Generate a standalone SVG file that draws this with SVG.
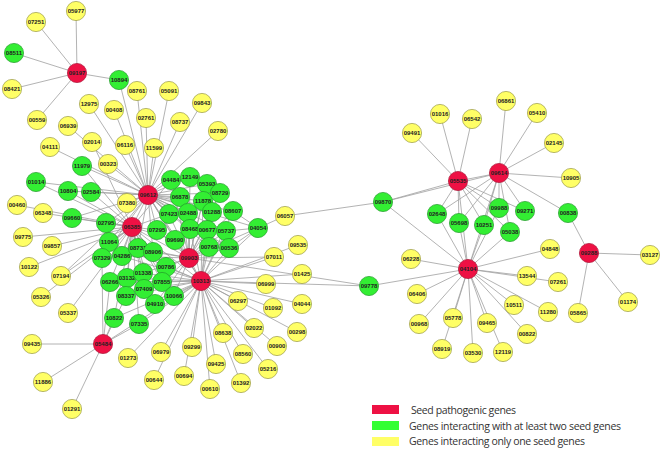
<svg xmlns="http://www.w3.org/2000/svg" width="662" height="450" viewBox="0 0 662 450">
<style>
.e path{fill:none;stroke:#a0a0a0;stroke-width:0.8}
.r circle{fill:#ee1144;stroke:#aa1133;stroke-width:0.7}
.g circle{fill:#33ee33;stroke:#22992a;stroke-width:0.7}
.y circle{fill:#ffff66;stroke:#9a9a40;stroke-width:0.7}
.n text{font-family:"Liberation Sans",Arial,sans-serif;font-size:6px;font-weight:bold;fill:#222;text-anchor:middle}
.lg text{font-family:"Open Sans","Liberation Sans",sans-serif;font-size:10.5px;fill:#333}
</style>
<rect width="662" height="450" fill="#fff"/>
<g class="e" id="connectors">
<path id="e-09197" d="M77 73L76 11M77 73L36 22M77 73L14 53M77 73L12 89M77 73L37 120M77 73L119 80M119 80L148 195"/>
<path id="e-09612" d="M148 195L89 104M148 195L114 110M148 195L137 91M148 195L146 118M148 195L169 91M148 195L202 103M148 195L180 122M148 195L218 131M148 195L68 126M148 195L125 145M148 195L154 148M148 195L108 164M148 195L50 147M148 195L82 166M148 195L91 192M148 195L68 191M148 195L127 203M148 195L132 227M148 195L171 180M148 195L190 177M148 195L207 184M148 195L180 197M148 195L203 201M148 195L220 193M148 195L169 214M148 195L188 213M148 195L212 212M148 195L233 211M148 195L157 230M148 195L190 229M148 195L207 230M148 195L226 231M148 195L175 240M148 195L209 247M148 195L229 248M148 195L258 228M148 195L106 223M148 195L109 242M148 195L72 218M148 195L36 182M148 195L189 258M148 195L201 281M148 195L138 248M148 195L153 252M148 195L61 276M148 195L102 258"/>
<path id="e-06385" d="M132 227L17 205M132 227L43 213M132 227L23 237M132 227L52 246M132 227L29 267M132 227L61 276M132 227L41 297M132 227L68 313M132 227L36 182M132 227L68 191M132 227L91 192M132 227L72 218M132 227L106 223M132 227L109 242M132 227L102 258M132 227L122 256M132 227L138 248M132 227L153 252M132 227L110 282M132 227L127 278M132 227L143 273M132 227L126 296M132 227L144 289M132 227L114 318M132 227L139 324M132 227L82 166M132 227L157 230M132 227L175 240M132 227L189 258M132 227L201 281M132 227L166 267M132 227L162 282M132 227L155 304M132 227L174 296M132 227L92 142M132 227L169 214M132 227L171 180"/>
<path id="e-09903" d="M189 258L171 180M189 258L190 177M189 258L207 184M189 258L180 197M189 258L203 201M189 258L220 193M189 258L169 214M189 258L188 213M189 258L212 212M189 258L233 211M189 258L157 230M189 258L190 229M189 258L207 230M189 258L226 231M189 258L175 240M189 258L209 247M189 258L229 248M189 258L258 228M189 258L201 281M189 258L166 267M189 258L162 282M189 258L153 252M189 258L143 273M189 258L174 296M189 258L155 304M189 258L122 256M189 258L138 248M189 258L369 286M189 258L274 257"/>
<path id="e-10313" d="M201 281L229 248M201 281L209 247M201 281L258 228M201 281L226 231M201 281L207 230M201 281L190 229M201 281L162 282M201 281L174 296M201 281L155 304M201 281L139 324M201 281L114 318M201 281L166 267M201 281L144 289M201 281L143 273M201 281L127 278M201 281L110 282M201 281L126 296M201 281L175 240M201 281L212 212M201 281L233 211M201 281L203 201M201 281L128 358M201 281L161 352M201 281L154 380M201 281L192 347M201 281L184 376M201 281L216 364M201 281L210 389M201 281L223 333M201 281L243 354M201 281L241 383M201 281L268 369M201 281L254 328M201 281L277 346M201 281L297 332M201 281L238 301M201 281L273 308M201 281L266 284M201 281L302 304M201 281L274 257M201 281L302 274M201 281L298 245M201 281L369 286M201 281L122 256M201 281L109 242"/>
<path id="e-05484" d="M103 344L32 344M103 344L43 382M103 344L72 409M103 344L114 318M103 344L139 324M103 344L110 282M103 344L126 296M103 344L201 281M103 344L102 258"/>
<path id="e-misc" d="M258 228L285 216M285 216L383 202M258 228L233 211M258 228L229 248M258 228L226 231"/>
<path id="e-05535" d="M458 181L412 133M458 181L440 114M458 181L472 119M458 181L383 202M458 181L437 214M458 181L459 223M458 181L484 225M458 181L499 208M458 181L525 211M458 181L510 232M458 181L468 269M458 181L499 173"/>
<path id="e-09614" d="M499 173L506 101M499 173L537 113M499 173L554 143M499 173L571 178M499 173L568 213M499 173L383 202M499 173L437 214M499 173L459 223M499 173L484 225M499 173L499 208M499 173L525 211M499 173L510 232M499 173L468 269"/>
<path id="e-04104" d="M468 269L383 202M468 269L437 214M468 269L459 223M468 269L484 225M468 269L510 232M468 269L499 208M468 269L411 259M468 269L369 286M468 269L550 249M468 269L527 276M468 269L558 282M468 269L417 294M468 269L419 324M468 269L453 318M468 269L442 349M468 269L473 353M468 269L487 323M468 269L503 352M468 269L527 334M468 269L514 305M468 269L548 312"/>
<path id="e-09288" d="M589 253L568 213M589 253L650 255M589 253L578 313M589 253L628 302"/>
</g>
<g class="n">
<g id="n05977" class="y"><circle cx="76" cy="11" r="9.6"/><text x="76" y="13.1">05977</text></g>
<g id="n07251" class="y"><circle cx="36" cy="22" r="9.6"/><text x="36" y="24.1">07251</text></g>
<g id="n08421" class="y"><circle cx="12" cy="89" r="9.6"/><text x="12" y="91.1">08421</text></g>
<g id="n00559" class="y"><circle cx="37" cy="120" r="9.6"/><text x="37" y="122.1">00559</text></g>
<g id="n12975" class="y"><circle cx="89" cy="104" r="9.6"/><text x="89" y="106.1">12975</text></g>
<g id="n00408" class="y"><circle cx="114" cy="110" r="9.6"/><text x="114" y="112.1">00408</text></g>
<g id="n08761" class="y"><circle cx="137" cy="91" r="9.6"/><text x="137" y="93.1">08761</text></g>
<g id="n05091" class="y"><circle cx="169" cy="91" r="9.6"/><text x="169" y="93.1">05091</text></g>
<g id="n09843" class="y"><circle cx="202" cy="103" r="9.6"/><text x="202" y="105.1">09843</text></g>
<g id="n02761" class="y"><circle cx="146" cy="118" r="9.6"/><text x="146" y="120.1">02761</text></g>
<g id="n08737" class="y"><circle cx="180" cy="122" r="9.6"/><text x="180" y="124.1">08737</text></g>
<g id="n02780" class="y"><circle cx="218" cy="131" r="9.6"/><text x="218" y="133.1">02780</text></g>
<g id="n06939" class="y"><circle cx="68" cy="126" r="9.6"/><text x="68" y="128.1">06939</text></g>
<g id="n02014" class="y"><circle cx="92" cy="142" r="9.6"/><text x="92" y="144.1">02014</text></g>
<g id="n04111" class="y"><circle cx="50" cy="147" r="9.6"/><text x="50" y="149.1">04111</text></g>
<g id="n06116" class="y"><circle cx="125" cy="145" r="9.6"/><text x="125" y="147.1">06116</text></g>
<g id="n11599" class="y"><circle cx="154" cy="148" r="9.6"/><text x="154" y="150.1">11599</text></g>
<g id="n00323" class="y"><circle cx="108" cy="164" r="9.6"/><text x="108" y="166.1">00323</text></g>
<g id="n00460" class="y"><circle cx="17" cy="205" r="9.6"/><text x="17" y="207.1">00460</text></g>
<g id="n06348" class="y"><circle cx="43" cy="213" r="9.6"/><text x="43" y="215.1">06348</text></g>
<g id="n09775" class="y"><circle cx="23" cy="237" r="9.6"/><text x="23" y="239.1">09775</text></g>
<g id="n09857" class="y"><circle cx="52" cy="246" r="9.6"/><text x="52" y="248.1">09857</text></g>
<g id="n07380" class="y"><circle cx="127" cy="203" r="9.6"/><text x="127" y="205.1">07380</text></g>
<g id="n10122" class="y"><circle cx="29" cy="267" r="9.6"/><text x="29" y="269.1">10122</text></g>
<g id="n07194" class="y"><circle cx="61" cy="276" r="9.6"/><text x="61" y="278.1">07194</text></g>
<g id="n05326" class="y"><circle cx="41" cy="297" r="9.6"/><text x="41" y="299.1">05326</text></g>
<g id="n05337" class="y"><circle cx="68" cy="313" r="9.6"/><text x="68" y="315.1">05337</text></g>
<g id="n09435" class="y"><circle cx="32" cy="344" r="9.6"/><text x="32" y="346.1">09435</text></g>
<g id="n11886" class="y"><circle cx="43" cy="382" r="9.6"/><text x="43" y="384.1">11886</text></g>
<g id="n01291" class="y"><circle cx="72" cy="409" r="9.6"/><text x="72" y="411.1">01291</text></g>
<g id="n01273" class="y"><circle cx="128" cy="358" r="9.6"/><text x="128" y="360.1">01273</text></g>
<g id="n06979" class="y"><circle cx="161" cy="352" r="9.6"/><text x="161" y="354.1">06979</text></g>
<g id="n00644" class="y"><circle cx="154" cy="380" r="9.6"/><text x="154" y="382.1">00644</text></g>
<g id="n09299" class="y"><circle cx="192" cy="347" r="9.6"/><text x="192" y="349.1">09299</text></g>
<g id="n00694" class="y"><circle cx="184" cy="376" r="9.6"/><text x="184" y="378.1">00694</text></g>
<g id="n09425" class="y"><circle cx="216" cy="364" r="9.6"/><text x="216" y="366.1">09425</text></g>
<g id="n00610" class="y"><circle cx="210" cy="389" r="9.6"/><text x="210" y="391.1">00610</text></g>
<g id="n08638" class="y"><circle cx="223" cy="333" r="9.6"/><text x="223" y="335.1">08638</text></g>
<g id="n08560" class="y"><circle cx="243" cy="354" r="9.6"/><text x="243" y="356.1">08560</text></g>
<g id="n01392" class="y"><circle cx="241" cy="383" r="9.6"/><text x="241" y="385.1">01392</text></g>
<g id="n05216" class="y"><circle cx="268" cy="369" r="9.6"/><text x="268" y="371.1">05216</text></g>
<g id="n02022" class="y"><circle cx="254" cy="328" r="9.6"/><text x="254" y="330.1">02022</text></g>
<g id="n00900" class="y"><circle cx="277" cy="346" r="9.6"/><text x="277" y="348.1">00900</text></g>
<g id="n00298" class="y"><circle cx="297" cy="332" r="9.6"/><text x="297" y="334.1">00298</text></g>
<g id="n06297" class="y"><circle cx="238" cy="301" r="9.6"/><text x="238" y="303.1">06297</text></g>
<g id="n01092" class="y"><circle cx="273" cy="308" r="9.6"/><text x="273" y="310.1">01092</text></g>
<g id="n06999" class="y"><circle cx="266" cy="284" r="9.6"/><text x="266" y="286.1">06999</text></g>
<g id="n04044" class="y"><circle cx="302" cy="304" r="9.6"/><text x="302" y="306.1">04044</text></g>
<g id="n07011" class="y"><circle cx="274" cy="257" r="9.6"/><text x="274" y="259.1">07011</text></g>
<g id="n01425" class="y"><circle cx="302" cy="274" r="9.6"/><text x="302" y="276.1">01425</text></g>
<g id="n09535" class="y"><circle cx="298" cy="245" r="9.6"/><text x="298" y="247.1">09535</text></g>
<g id="n06057" class="y"><circle cx="285" cy="216" r="9.6"/><text x="285" y="218.1">06057</text></g>
<g id="n09491" class="y"><circle cx="412" cy="133" r="9.6"/><text x="412" y="135.1">09491</text></g>
<g id="n01016" class="y"><circle cx="440" cy="114" r="9.6"/><text x="440" y="116.1">01016</text></g>
<g id="n06542" class="y"><circle cx="472" cy="119" r="9.6"/><text x="472" y="121.1">06542</text></g>
<g id="n06861" class="y"><circle cx="506" cy="101" r="9.6"/><text x="506" y="103.1">06861</text></g>
<g id="n05410" class="y"><circle cx="537" cy="113" r="9.6"/><text x="537" y="115.1">05410</text></g>
<g id="n02145" class="y"><circle cx="554" cy="143" r="9.6"/><text x="554" y="145.1">02145</text></g>
<g id="n10905" class="y"><circle cx="571" cy="178" r="9.6"/><text x="571" y="180.1">10905</text></g>
<g id="n04848" class="y"><circle cx="550" cy="249" r="9.6"/><text x="550" y="251.1">04848</text></g>
<g id="n06228" class="y"><circle cx="411" cy="259" r="9.6"/><text x="411" y="261.1">06228</text></g>
<g id="n13544" class="y"><circle cx="527" cy="276" r="9.6"/><text x="527" y="278.1">13544</text></g>
<g id="n07261" class="y"><circle cx="558" cy="282" r="9.6"/><text x="558" y="284.1">07261</text></g>
<g id="n03127" class="y"><circle cx="650" cy="255" r="9.6"/><text x="650" y="257.1">03127</text></g>
<g id="n06406" class="y"><circle cx="417" cy="294" r="9.6"/><text x="417" y="296.1">06406</text></g>
<g id="n10511" class="y"><circle cx="514" cy="305" r="9.6"/><text x="514" y="307.1">10511</text></g>
<g id="n11280" class="y"><circle cx="548" cy="312" r="9.6"/><text x="548" y="314.1">11280</text></g>
<g id="n05865" class="y"><circle cx="578" cy="313" r="9.6"/><text x="578" y="315.1">05865</text></g>
<g id="n01174" class="y"><circle cx="628" cy="302" r="9.6"/><text x="628" y="304.1">01174</text></g>
<g id="n00968" class="y"><circle cx="419" cy="324" r="9.6"/><text x="419" y="326.1">00968</text></g>
<g id="n05778" class="y"><circle cx="453" cy="318" r="9.6"/><text x="453" y="320.1">05778</text></g>
<g id="n09465" class="y"><circle cx="487" cy="323" r="9.6"/><text x="487" y="325.1">09465</text></g>
<g id="n00822" class="y"><circle cx="527" cy="334" r="9.6"/><text x="527" y="336.1">00822</text></g>
<g id="n08919" class="y"><circle cx="442" cy="349" r="9.6"/><text x="442" y="351.1">08919</text></g>
<g id="n03530" class="y"><circle cx="473" cy="353" r="9.6"/><text x="473" y="355.1">03530</text></g>
<g id="n12119" class="y"><circle cx="503" cy="352" r="9.6"/><text x="503" y="354.1">12119</text></g>
<g id="n08511" class="g"><circle cx="14" cy="53" r="9.6"/><text x="14" y="55.1">08511</text></g>
<g id="n10894" class="g"><circle cx="119" cy="80" r="9.6"/><text x="119" y="82.1">10894</text></g>
<g id="n11979" class="g"><circle cx="82" cy="166" r="9.6"/><text x="82" y="168.1">11979</text></g>
<g id="n01014" class="g"><circle cx="36" cy="182" r="9.6"/><text x="36" y="184.1">01014</text></g>
<g id="n10804" class="g"><circle cx="68" cy="191" r="9.6"/><text x="68" y="193.1">10804</text></g>
<g id="n02584" class="g"><circle cx="91" cy="192" r="9.6"/><text x="91" y="194.1">02584</text></g>
<g id="n09660" class="g"><circle cx="72" cy="218" r="9.6"/><text x="72" y="220.1">09660</text></g>
<g id="n02795" class="g"><circle cx="106" cy="223" r="9.6"/><text x="106" y="225.1">02795</text></g>
<g id="n11064" class="g"><circle cx="109" cy="242" r="9.6"/><text x="109" y="244.1">11064</text></g>
<g id="n07329" class="g"><circle cx="102" cy="258" r="9.6"/><text x="102" y="260.1">07329</text></g>
<g id="n04286" class="g"><circle cx="122" cy="256" r="9.6"/><text x="122" y="258.1">04286</text></g>
<g id="n08731" class="g"><circle cx="138" cy="248" r="9.6"/><text x="138" y="250.1">08731</text></g>
<g id="n08906" class="g"><circle cx="153" cy="252" r="9.6"/><text x="153" y="254.1">08906</text></g>
<g id="n06266" class="g"><circle cx="110" cy="282" r="9.6"/><text x="110" y="284.1">06266</text></g>
<g id="n03132" class="g"><circle cx="127" cy="278" r="9.6"/><text x="127" y="280.1">03132</text></g>
<g id="n01338" class="g"><circle cx="143" cy="273" r="9.6"/><text x="143" y="275.1">01338</text></g>
<g id="n00786" class="g"><circle cx="166" cy="267" r="9.6"/><text x="166" y="269.1">00786</text></g>
<g id="n07855" class="g"><circle cx="162" cy="282" r="9.6"/><text x="162" y="284.1">07855</text></g>
<g id="n08337" class="g"><circle cx="126" cy="296" r="9.6"/><text x="126" y="298.1">08337</text></g>
<g id="n07409" class="g"><circle cx="144" cy="289" r="9.6"/><text x="144" y="291.1">07409</text></g>
<g id="n10066" class="g"><circle cx="174" cy="296" r="9.6"/><text x="174" y="298.1">10066</text></g>
<g id="n04910" class="g"><circle cx="155" cy="304" r="9.6"/><text x="155" y="306.1">04910</text></g>
<g id="n10822" class="g"><circle cx="114" cy="318" r="9.6"/><text x="114" y="320.1">10822</text></g>
<g id="n07335" class="g"><circle cx="139" cy="324" r="9.6"/><text x="139" y="326.1">07335</text></g>
<g id="n04484" class="g"><circle cx="171" cy="180" r="9.6"/><text x="171" y="182.1">04484</text></g>
<g id="n12149" class="g"><circle cx="190" cy="177" r="9.6"/><text x="190" y="179.1">12149</text></g>
<g id="n05393" class="g"><circle cx="207" cy="184" r="9.6"/><text x="207" y="186.1">05393</text></g>
<g id="n06878" class="g"><circle cx="180" cy="197" r="9.6"/><text x="180" y="199.1">06878</text></g>
<g id="n11878" class="g"><circle cx="203" cy="201" r="9.6"/><text x="203" y="203.1">11878</text></g>
<g id="n08729" class="g"><circle cx="220" cy="193" r="9.6"/><text x="220" y="195.1">08729</text></g>
<g id="n07423" class="g"><circle cx="169" cy="214" r="9.6"/><text x="169" y="216.1">07423</text></g>
<g id="n02488" class="g"><circle cx="188" cy="213" r="9.6"/><text x="188" y="215.1">02488</text></g>
<g id="n01288" class="g"><circle cx="212" cy="212" r="9.6"/><text x="212" y="214.1">01288</text></g>
<g id="n08607" class="g"><circle cx="233" cy="211" r="9.6"/><text x="233" y="213.1">08607</text></g>
<g id="n07295" class="g"><circle cx="157" cy="230" r="9.6"/><text x="157" y="232.1">07295</text></g>
<g id="n08468" class="g"><circle cx="190" cy="229" r="9.6"/><text x="190" y="231.1">08468</text></g>
<g id="n00677" class="g"><circle cx="207" cy="230" r="9.6"/><text x="207" y="232.1">00677</text></g>
<g id="n05737" class="g"><circle cx="226" cy="231" r="9.6"/><text x="226" y="233.1">05737</text></g>
<g id="n09690" class="g"><circle cx="175" cy="240" r="9.6"/><text x="175" y="242.1">09690</text></g>
<g id="n00768" class="g"><circle cx="209" cy="247" r="9.6"/><text x="209" y="249.1">00768</text></g>
<g id="n00536" class="g"><circle cx="229" cy="248" r="9.6"/><text x="229" y="250.1">00536</text></g>
<g id="n04054" class="g"><circle cx="258" cy="228" r="9.6"/><text x="258" y="230.1">04054</text></g>
<g id="n09870" class="g"><circle cx="383" cy="202" r="9.6"/><text x="383" y="204.1">09870</text></g>
<g id="n09778" class="g"><circle cx="369" cy="286" r="9.6"/><text x="369" y="288.1">09778</text></g>
<g id="n02648" class="g"><circle cx="437" cy="214" r="9.6"/><text x="437" y="216.1">02648</text></g>
<g id="n05698" class="g"><circle cx="459" cy="223" r="9.6"/><text x="459" y="225.1">05698</text></g>
<g id="n10251" class="g"><circle cx="484" cy="225" r="9.6"/><text x="484" y="227.1">10251</text></g>
<g id="n09988" class="g"><circle cx="499" cy="208" r="9.6"/><text x="499" y="210.1">09988</text></g>
<g id="n09271" class="g"><circle cx="525" cy="211" r="9.6"/><text x="525" y="213.1">09271</text></g>
<g id="n05038" class="g"><circle cx="510" cy="232" r="9.6"/><text x="510" y="234.1">05038</text></g>
<g id="n00838" class="g"><circle cx="568" cy="213" r="9.6"/><text x="568" y="215.1">00838</text></g>
<g id="n09197" class="r"><circle cx="77" cy="73" r="9.6"/><text x="77" y="75.1">09197</text></g>
<g id="n09612" class="r"><circle cx="148" cy="195" r="9.6"/><text x="148" y="197.1">09612</text></g>
<g id="n06385" class="r"><circle cx="132" cy="227" r="9.6"/><text x="132" y="229.1">06385</text></g>
<g id="n09903" class="r"><circle cx="189" cy="258" r="9.6"/><text x="189" y="260.1">09903</text></g>
<g id="n10313" class="r"><circle cx="201" cy="281" r="9.6"/><text x="201" y="283.1">10313</text></g>
<g id="n05484" class="r"><circle cx="103" cy="344" r="9.6"/><text x="103" y="346.1">05484</text></g>
<g id="n05535" class="r"><circle cx="458" cy="181" r="9.6"/><text x="458" y="183.1">05535</text></g>
<g id="n09614" class="r"><circle cx="499" cy="173" r="9.6"/><text x="499" y="175.1">09614</text></g>
<g id="n04104" class="r"><circle cx="468" cy="269" r="9.6"/><text x="468" y="271.1">04104</text></g>
<g id="n09288" class="r"><circle cx="589" cy="253" r="9.6"/><text x="589" y="255.1">09288</text></g>
</g>
<g id="legend" class="lg">
<rect x="372" y="405" width="27" height="9" fill="#ee1144"/>
<rect x="372" y="421" width="27" height="9" fill="#33ff33"/>
<rect x="372" y="437" width="27" height="9" fill="#ffff66"/>
<text x="411" y="414" textLength="105">Seed pathogenic genes</text>
<text x="409" y="430" textLength="212">Genes interacting with at least two seed genes</text>
<text x="409" y="445" textLength="176">Genes interacting only one seed genes</text>
</g>
</svg>
